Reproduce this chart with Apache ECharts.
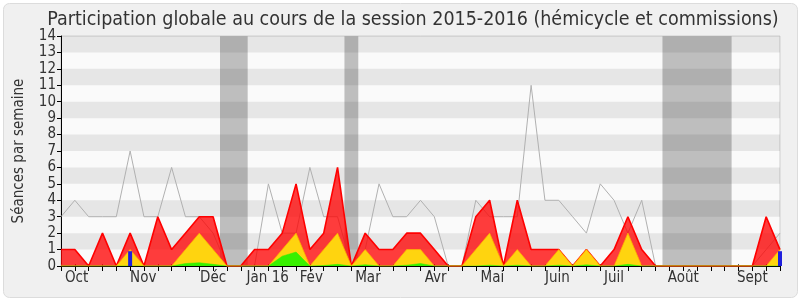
<!DOCTYPE html>
<html>
<head>
<meta charset="utf-8">
<script src="https://cdn.jsdelivr.net/npm/echarts@6/dist/echarts.min.js"></script>
<style>html,body{margin:0;padding:0;background:#fff}#c{width:800px;height:300px}</style>
</head>
<body>
<div id="c"></div>
<script>
// week index 0..52 (session 2015-2016)
const weeks = Array.from({length: 53}, (_, i) => i);
const monthNames = ['Oct', 'Nov', 'Déc', 'Jan 16', 'Fév', 'Mar', 'Avr', 'Mai', 'Juin', 'Juil', 'Août', 'Sept'];
const monthPos = [1.13, 5.95, 11.0, 14.95, 18.1, 22.2, 27.1, 31.2, 35.9, 40.0, 45.0, 50.0];
const yTicks = [0,1,2,3,4,5,6,7,8,9,10,11,12,13,14];
const vacations = [[11.5, 13.5], [20.5, 21.5], [43.5, 48.5]];

const presenceTotal = [1,1,0,2,0,2,0,3,1,2,3,3,0,0,1,1,2,5,1,2,6,0,2,1,1,2,2,1,0,0,3,4,0,4,1,1,1,0,1,0,1,3,1,0,0,0,0,0,0,0,0,3,1];
const presenceHemi  = [0,0,0,0,0,1,0,0,0,1,2,1,0,0,0,0,1,2,0,1,2,0,1,0,0,1,1,0,0,0,1,2,0,1,0,0,1,0,1,0,0,2,0,0,0,0,0,0,0,0,0,0,1];
const interventions = [0,0,0,0,0,0,0,0,0,0.15,0.2,0.1,0,0,0,0,0.6,0.85,0,0.03,0.1,0,0.08,0,0,0.05,0.15,0,0,0,0,0.05,0,0.05,0,0,0.05,0,0.07,0,0,0.1,0,0,0,0,0,0,0,0,0,0,0];
const mediane       = [3,4,3,3,3,7,3,3,6,3,3,2,0,0,0,5,2,2,6,3,3,0,1,5,3,3,4,3,0,0,4,3,3,3,11,4,4,3,2,5,4,2,4,0,0,0,0,0,0,0,0,1,2];
const questions     = [0,0,0,0,0,0.9,0,0,0,0,0,0,0,0,0,0,0,0,0,0,0,0,0,0,0,0,0,0,0,0,0,0,0,0,0,0,0,0,0,0,0,0,0,0,0,0,0,0,0,0,0,0,0.9];

const FONT = 'DejaVu Sans Condensed, DejaVu Sans';
const pairs = arr => weeks.map(i => [i, arr[i]]);
const stripes = [];
for (let y = 1; y < 14; y += 2) stripes.push([{yAxis: y}, {yAxis: y + 1}]);

const chart = echarts.init(document.getElementById('c'), null, {renderer: 'canvas'});
chart.setOption({
  animation: false,
  backgroundColor: '#ffffff',
  graphic: [{
    type: 'rect', left: 3, top: 3, z: -10, silent: true,
    shape: {width: 794, height: 294, r: 6},
    style: {fill: '#f0f0f0', stroke: '#dcdcdc', lineWidth: 1}
  }],
  title: {
    text: 'Participation globale au cours de la session 2015-2016 (hémicycle et commissions)',
    left: 408, textAlign: 'center', top: 5,
    textStyle: {fontFamily: FONT, fontSize: 19.5, fontWeight: 'normal', color: '#333'}
  },
  grid: {left: 61, right: 20, top: 36, bottom: 34, show: true, backgroundColor: '#fafafa', borderColor: '#cfcfcf', borderWidth: 1},
  xAxis: [{
    type: 'value', min: 0, max: 52, position: 'bottom',
    axisLine: {show: true, onZero: false, lineStyle: {color: '#000', width: 1}},
    axisTick: {show: true, length: 5, customValues: weeks, lineStyle: {color: '#000'}},
    axisLabel: {
      customValues: monthPos, margin: 5, color: '#333', fontFamily: FONT, fontSize: 15,
      formatter: v => {
        let best = 0;
        monthPos.forEach((p, k) => { if (Math.abs(p - v) < Math.abs(monthPos[best] - v)) best = k; });
        return monthNames[best];
      }
    },
    splitLine: {show: false}
  }, {
    type: 'value', min: 0, max: 52, position: 'top',
    axisLine: {show: false},
    axisTick: {show: true, length: 2, customValues: weeks, lineStyle: {color: '#555'}},
    axisLabel: {show: false},
    splitLine: {show: false}
  }],
  yAxis: {
    type: 'value', min: 0, max: 14, interval: 1,
    name: 'Séances par semaine', nameLocation: 'middle', nameGap: 34,
    nameTextStyle: {fontFamily: FONT, fontSize: 15, color: '#333'},
    axisLine: {show: true, lineStyle: {color: '#000'}},
    axisTick: {show: true, length: 4, lineStyle: {color: '#000'}},
    axisLabel: {margin: 5, color: '#333', fontFamily: FONT, fontSize: 15, formatter: v => String(yTicks[v])},
    splitLine: {show: false}
  },
  series: [
    {
      name: 'vacances', type: 'line', data: [], silent: true, z: 1,
      markArea: {silent: true, z: 1, itemStyle: {color: '#bebebe'},
        data: vacations.map(v => [{xAxis: v[0]}, {xAxis: v[1]}])}
    },
    {
      name: 'bandes', type: 'line', data: [], silent: true, z: 2,
      markArea: {silent: true, z: 2, itemStyle: {color: 'rgba(0,0,0,0.08)'}, data: stripes}
    },
    {
      name: 'Médiane', type: 'line', data: pairs(mediane), z: 3, symbol: 'none',
      lineStyle: {color: '#b0b0b0', width: 1}
    },
    {
      name: 'Présences', type: 'line', data: pairs(presenceTotal), z: 4, symbol: 'none',
      lineStyle: {color: '#ff0000', width: 1.6},
      areaStyle: {color: '#ff0000', opacity: 0.76, origin: 'start'}
    },
    {
      name: 'Hémicycle', type: 'line', data: pairs(presenceHemi), z: 5, symbol: 'none',
      lineStyle: {color: '#ffb000', width: 0.8},
      areaStyle: {color: '#ffd40f', opacity: 1, origin: 'start'}
    },
    {
      name: 'Interventions', type: 'line', data: pairs(interventions), z: 6, symbol: 'none',
      lineStyle: {color: '#33ee00', width: 0.5},
      areaStyle: {color: '#38f000', opacity: 1, origin: 'start'}
    },
    {
      name: 'Questions', type: 'bar', data: pairs(questions), z: 7, barWidth: 4,
      itemStyle: {color: '#2020dd'}
    }
  ]
});
</script>
</body>
</html>
